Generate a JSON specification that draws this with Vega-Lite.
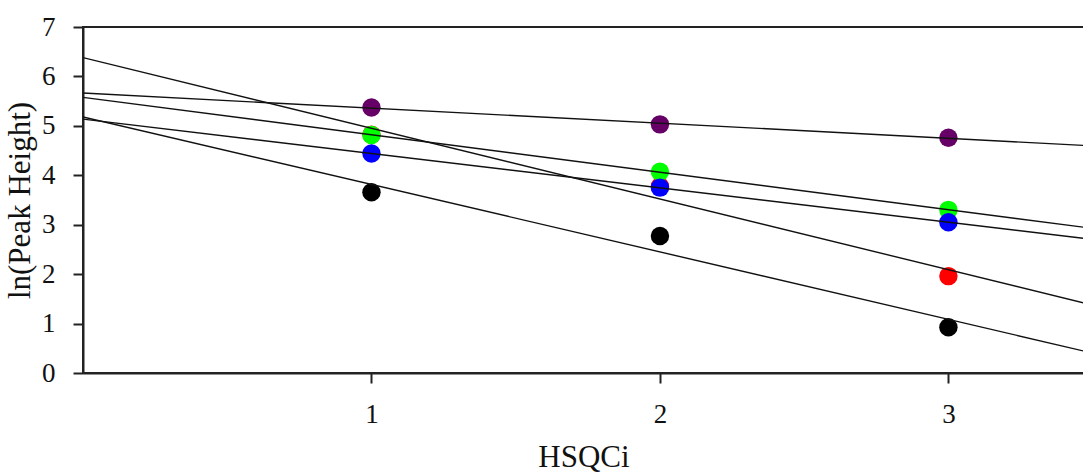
{
  "$schema": "https://vega.github.io/schema/vega-lite/v6.json",
  "autosize": {"type": "none"},
  "padding": {"left": 83, "top": 27, "right": 0, "bottom": 100},
  "width": 1001,
  "height": 346,
  "background": "white",
  "config": {
    "view": {"stroke": "#222222", "strokeWidth": 2},
    "axis": {
      "labelFont": "Liberation Serif",
      "titleFont": "Liberation Serif",
      "labelFontSize": 27,
      "titleFontSize": 31,
      "labelColor": "#111111",
      "titleColor": "#111111",
      "titleFontWeight": "normal",
      "domainColor": "#222222",
      "domainWidth": 2,
      "tickColor": "#222222",
      "tickWidth": 2,
      "tickSize": 10,
      "grid": false
    }
  },
  "data": {
    "values": [
      {"series": "red", "hsqci": 1, "lnph": 4.82},
      {"series": "red", "hsqci": 2, "lnph": 3.78},
      {"series": "red", "hsqci": 3, "lnph": 1.96},
      {"series": "green", "hsqci": 1, "lnph": 4.815},
      {"series": "green", "hsqci": 2, "lnph": 4.07},
      {"series": "green", "hsqci": 3, "lnph": 3.30},
      {"series": "blue", "hsqci": 1, "lnph": 4.44},
      {"series": "blue", "hsqci": 2, "lnph": 3.75},
      {"series": "blue", "hsqci": 3, "lnph": 3.05},
      {"series": "purple", "hsqci": 1, "lnph": 5.37},
      {"series": "purple", "hsqci": 2, "lnph": 5.03},
      {"series": "purple", "hsqci": 3, "lnph": 4.76},
      {"series": "black", "hsqci": 1, "lnph": 3.655},
      {"series": "black", "hsqci": 2, "lnph": 2.77},
      {"series": "black", "hsqci": 3, "lnph": 0.925}
    ]
  },
  "encoding": {
    "x": {
      "field": "hsqci",
      "type": "quantitative",
      "scale": {"domain": [0, 3.47], "nice": false, "zero": false},
      "axis": {
        "values": [1, 2, 3],
        "title": "HSQCi",
        "labelFontSize": 27,
        "labelBaseline": "alphabetic",
        "labelPadding": 39,
        "titleBaseline": "alphabetic",
        "titleY": 93
      }
    },
    "y": {
      "field": "lnph",
      "type": "quantitative",
      "scale": {"domain": [0, 7], "nice": false},
      "axis": {
        "values": [0, 1, 2, 3, 4, 5, 6, 7],
        "title": "ln(Peak Height)",
        "labelFontSize": 27,
        "labelPadding": 18,
        "titleBaseline": "alphabetic",
        "titleX": -54,
        "titleY": 173
      }
    }
  },
  "layer": [
    {
      "mark": {"type": "point", "filled": true, "opacity": 1, "size": 340},
      "encoding": {
        "color": {
          "field": "series",
          "type": "nominal",
          "scale": {
            "domain": ["red", "green", "blue", "purple", "black"],
            "range": ["#ff0000", "#00ff00", "#0000ff", "#660066", "#000000"]
          },
          "legend": null
        }
      }
    },
    {
      "transform": [
        {"regression": "lnph", "on": "hsqci", "groupby": ["series"], "extent": [0, 3.47]}
      ],
      "mark": {"type": "line", "color": "#111111", "strokeWidth": 1.4, "clip": true},
      "encoding": {
        "detail": {"field": "series", "type": "nominal"}
      }
    }
  ]
}
